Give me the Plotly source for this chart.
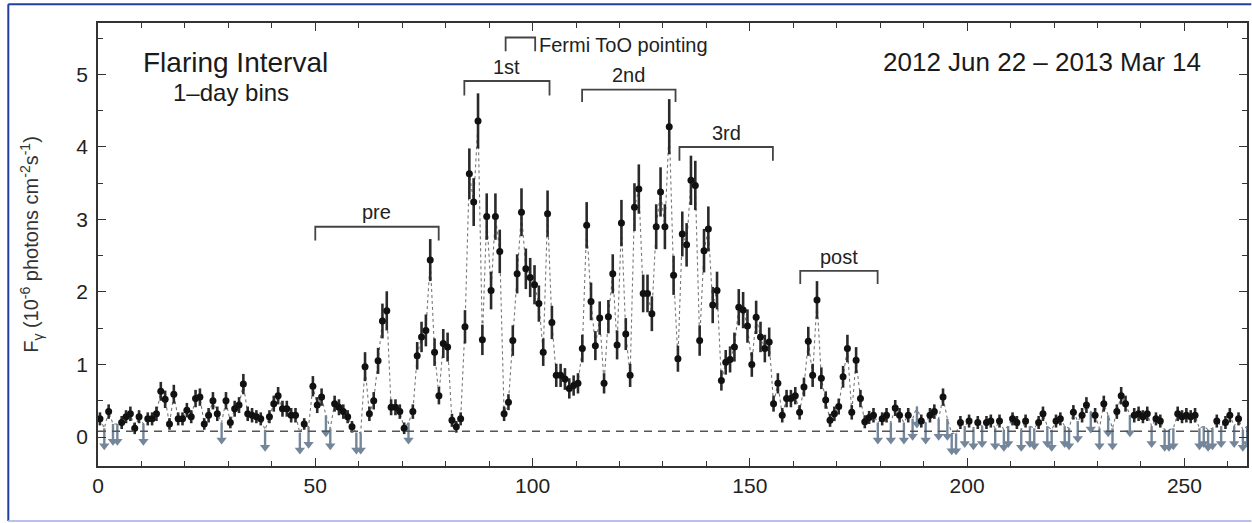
import numpy as np
import plotly.graph_objects as go

# ---------------- data ----------------
days = list(range(265))

flux = [
    0.25, 0.12, 0.35, 0.18, 0.18, 0.20, 0.28, 0.32, 0.12, 0.28,
    0.18, 0.25, 0.25, 0.32, 0.63, 0.52, 0.18, 0.59, 0.25, 0.25,
    0.37, 0.28, 0.53, 0.55, 0.18, 0.30, 0.50, 0.32, 0.20, 0.50,
    0.20, 0.39, 0.44, 0.73, 0.32, 0.30, 0.28, 0.25, 0.10, 0.28,
    0.46, 0.57, 0.39, 0.39, 0.30, 0.30, 0.06, 0.18, 0.14, 0.70,
    0.44, 0.55, 0.30, 0.12, 0.46, 0.41, 0.35, 0.28, 0.14, 0.06,
    0.06, 0.97, 0.32, 0.50, 1.05, 1.60, 1.74, 0.41, 0.41, 0.35,
    0.12, 0.20, 0.35, 1.12, 1.38, 1.47, 2.44, 1.17, 0.57, 1.29,
    1.24, 0.23, 0.14, 0.25, 1.52, 3.63, 3.24, 4.36, 1.34, 3.04,
    2.02, 3.04, 2.56, 0.32, 0.48, 1.33, 2.25, 3.10, 2.32, 2.20,
    2.10, 1.84, 1.17, 3.08, 1.58, 0.85, 0.85, 0.80, 0.67, 0.71,
    0.74, 1.22, 2.92, 1.87, 1.26, 1.64, 0.74, 1.66, 2.25, 1.27,
    2.95, 1.42, 0.85, 3.17, 3.42, 1.98, 1.98, 1.70, 2.90, 3.38,
    2.90, 4.28, 2.23, 1.08, 2.80, 2.65, 3.54, 3.47, 1.33, 2.57,
    2.87, 1.82, 2.02, 0.78, 1.03, 1.07, 1.24, 1.79, 1.75, 1.53,
    1.00, 1.65, 1.38, 1.22, 1.31, 0.46, 0.74, 0.30, 0.53, 0.53,
    0.57, 0.34, 0.69, 1.32, 0.85, 1.89, 0.81, 0.51, 0.23, 0.32,
    0.42, 0.83, 1.22, 0.34, 1.06, 0.53, 0.21, 0.27, 0.30, 0.20,
    0.25, 0.30, 0.20, 0.40, 0.30, 0.20, 0.30, 0.25, 0.42, 0.22,
    0.20, 0.30, 0.35, 0.25, 0.55, 0.25, 0.05, 0.05, 0.20, 0.15,
    0.22, 0.12, 0.20, 0.15, 0.20, 0.22, 0.12, 0.22, 0.10, 0.15,
    0.25, 0.20, 0.10, 0.22, 0.15, 0.12, 0.20, 0.32, 0.15, 0.10,
    0.22, 0.25, 0.15, 0.12, 0.34, 0.22, 0.30, 0.44, 0.35, 0.30,
    0.12, 0.46, 0.30, 0.12, 0.35, 0.57, 0.46, 0.30, 0.30, 0.32,
    0.28, 0.32, 0.15, 0.25, 0.22, 0.10, 0.10, 0.12, 0.32, 0.28,
    0.30, 0.28, 0.30, 0.12, 0.15, 0.10, 0.12, 0.22, 0.15, 0.20,
    0.30, 0.15, 0.25, 0.10, 0.15,
]

err = [
    0.09, 0.09, 0.10, 0.09, 0.09, 0.09, 0.09, 0.10, 0.08, 0.09,
    0.09, 0.09, 0.09, 0.10, 0.13, 0.12, 0.08, 0.13, 0.09, 0.09,
    0.10, 0.09, 0.12, 0.12, 0.08, 0.10, 0.12, 0.10, 0.09, 0.12,
    0.08, 0.11, 0.11, 0.14, 0.10, 0.10, 0.09, 0.09, 0.08, 0.09,
    0.11, 0.12, 0.11, 0.11, 0.10, 0.10, 0.08, 0.08, 0.08, 0.14,
    0.11, 0.12, 0.10, 0.08, 0.11, 0.11, 0.10, 0.09, 0.08, 0.08,
    0.08, 0.20, 0.10, 0.12, 0.18, 0.24, 0.27, 0.11, 0.11, 0.10,
    0.08, 0.08, 0.10, 0.19, 0.21, 0.22, 0.29, 0.19, 0.12, 0.20,
    0.20, 0.09, 0.08, 0.09, 0.23, 0.35, 0.33, 0.38, 0.21, 0.32,
    0.26, 0.32, 0.30, 0.10, 0.11, 0.21, 0.27, 0.33, 0.28, 0.27,
    0.27, 0.25, 0.19, 0.32, 0.23, 0.16, 0.16, 0.15, 0.14, 0.14,
    0.14, 0.19, 0.32, 0.26, 0.20, 0.23, 0.14, 0.23, 0.27, 0.20,
    0.32, 0.22, 0.16, 0.33, 0.34, 0.26, 0.26, 0.24, 0.31, 0.34,
    0.31, 0.38, 0.27, 0.18, 0.31, 0.30, 0.34, 0.34, 0.21, 0.30,
    0.31, 0.25, 0.26, 0.14, 0.17, 0.18, 0.20, 0.25, 0.25, 0.23,
    0.17, 0.23, 0.21, 0.19, 0.20, 0.11, 0.14, 0.10, 0.12, 0.12,
    0.12, 0.10, 0.13, 0.20, 0.16, 0.26, 0.15, 0.12, 0.09, 0.10,
    0.11, 0.15, 0.19, 0.10, 0.18, 0.12, 0.09, 0.09, 0.10, 0.09,
    0.09, 0.10, 0.09, 0.11, 0.10, 0.09, 0.10, 0.09, 0.11, 0.09,
    0.09, 0.10, 0.10, 0.09, 0.12, 0.09, 0.08, 0.08, 0.09, 0.08,
    0.09, 0.08, 0.09, 0.08, 0.09, 0.09, 0.08, 0.09, 0.08, 0.08,
    0.09, 0.09, 0.08, 0.09, 0.08, 0.08, 0.09, 0.10, 0.08, 0.08,
    0.09, 0.09, 0.08, 0.08, 0.10, 0.09, 0.10, 0.11, 0.10, 0.10,
    0.08, 0.11, 0.10, 0.08, 0.10, 0.12, 0.11, 0.10, 0.10, 0.10,
    0.09, 0.10, 0.08, 0.09, 0.09, 0.08, 0.08, 0.08, 0.10, 0.09,
    0.10, 0.09, 0.10, 0.08, 0.08, 0.08, 0.08, 0.09, 0.08, 0.09,
    0.10, 0.08, 0.09, 0.08, 0.08,
]

# days that are upper limits (grey arrows)
ul_days = [1, 3, 4, 10, 28, 38, 46, 48, 52, 53, 59, 60, 71,
           179, 182, 185, 187, 188, 190, 193, 195, 196, 197, 199,
           201, 203, 206, 208, 209, 212, 214, 215, 218, 219, 222,
           223, 225, 228, 230, 232, 233, 237, 242, 245, 246, 247,
           253, 254, 255, 256, 258, 261, 263, 264]

quiescent_level = 0.08

# interval brackets: (label, start day, end day)
interval_names = ["pre", "1st", "2nd", "3rd", "post", "Fermi ToO pointing"]
interval_start = [50, 84.3, 111.4, 133.8, 161.6, 93.8]
interval_end = [78.4, 103.9, 132.9, 155.3, 179.4, 100.6]

x_ticks = [0, 50, 100, 150, 200, 250]
y_ticks = [0, 1, 2, 3, 4, 5]

# ---------------- figure ----------------
FONT = "Liberation Sans"
d = np.array(days, dtype=float)
f = np.array(flux)
e = np.array(err)
is_ul = np.isin(d, ul_days)
xc = d + 0.45

fig = go.Figure()

# dotted connecting line
fig.add_trace(go.Scatter(x=xc, y=f, mode="lines",
                         line=dict(color="#777777", width=1.1, dash="dot"),
                         hoverinfo="skip", showlegend=False))

# upper limits
ARROW = 0.24
fig.add_trace(go.Scatter(
    x=xc[is_ul], y=f[is_ul] - ARROW, mode="markers",
    marker=dict(symbol="triangle-down", size=9, color="#74869a"),
    error_y=dict(type="data", symmetric=False,
                 array=np.full(is_ul.sum(), ARROW),
                 arrayminus=np.zeros(is_ul.sum()),
                 color="#74869a", thickness=2.4, width=0),
    showlegend=False))

# detections
fig.add_trace(go.Scatter(
    x=xc[~is_ul], y=f[~is_ul], mode="markers",
    marker=dict(symbol="circle", size=7, color="#111111"),
    error_y=dict(type="data", array=e[~is_ul], color="#2a2a2a",
                 thickness=2.6, width=0),
    showlegend=False))

fig.add_hline(y=quiescent_level, line=dict(color="#555555", width=1.6, dash="8px,6px"))

# brackets
bracket_top = {"pre": 2.90, "1st": 4.91, "2nd": 4.79, "3rd": 4.00,
               "post": 2.29, "Fermi ToO pointing": 5.51}
bracket_drop = {"pre": 0.19, "1st": 0.20, "2nd": 0.17, "3rd": 0.19,
                "post": 0.18, "Fermi ToO pointing": 0.19}
for name, s, t in zip(interval_names, interval_start, interval_end):
    top = bracket_top[name]
    dr = bracket_drop[name]
    fig.add_trace(go.Scatter(x=[s, s, t, t], y=[top - dr, top, top, top - dr],
                             mode="lines", line=dict(color="#444444", width=1.8),
                             hoverinfo="skip", showlegend=False))
    if name == "Fermi ToO pointing":
        fig.add_annotation(x=t + 0.4, y=5.40, text=name, showarrow=False,
                           xanchor="left", yanchor="middle",
                           font=dict(size=20, color="#222222", family=FONT))
    else:
        fig.add_annotation(x=(s + t) / 2, y=top + 0.02, text=name, showarrow=False,
                           xanchor="center", yanchor="bottom",
                           font=dict(size=20, color="#222222", family=FONT))

fig.add_annotation(x=10.0, y=5.17, text="Flaring Interval", showarrow=False,
                   xanchor="left", yanchor="middle",
                   font=dict(size=28, color="#1a1a1a", family=FONT))
fig.add_annotation(x=16.8, y=4.75, text="1\u2013day bins", showarrow=False,
                   xanchor="left", yanchor="middle",
                   font=dict(size=24, color="#1a1a1a", family=FONT))
fig.add_annotation(x=254.3, y=5.17, text="2012 Jun 22 \u2013 2013 Mar 14", showarrow=False,
                   xanchor="right", yanchor="middle",
                   font=dict(size=26, color="#1a1a1a", family=FONT))

# outer screenshot frame
PL, PR, PT, PB = 97.7, 1246.7, 22.7, 466.0
W = PR - PL
H = PB - PT
def px(xp):
    return (xp - PL) / W
def py(yp):
    return (PB - yp) / H
frame_dark = "#2040a0"
frame_light = "#b7c0ee"
fig.add_shape(type="line", xref="paper", yref="paper", x0=px(8), x1=px(1251), y0=py(4), y1=py(4),
              line=dict(color=frame_dark, width=2))
fig.add_shape(type="line", xref="paper", yref="paper", x0=px(8), x1=px(8), y0=py(4), y1=py(521),
              line=dict(color=frame_dark, width=2))
fig.add_shape(type="line", xref="paper", yref="paper", x0=px(8), x1=px(1251), y0=py(521), y1=py(521),
              line=dict(color=frame_light, width=2))

axis_common = dict(showline=True, linecolor="#333333", linewidth=1.6, mirror="allticks",
                   ticks="inside", ticklen=8, tickwidth=1.4, tickcolor="#333333",
                   showgrid=False, zeroline=False, automargin=False,
                   tickfont=dict(size=21, color="#222222", family=FONT))

fig.update_xaxes(range=[0, 264.4], tickvals=x_ticks,
                 minor=dict(dtick=10, ticks="inside", ticklen=5, tickcolor="#333333", tickwidth=1.2),
                 **axis_common)
fig.update_yaxes(range=[-0.40, 5.71], tickvals=y_ticks, ticklabelstandoff=4,
                 minor=dict(dtick=0.5, ticks="inside", ticklen=5, tickcolor="#333333", tickwidth=1.2),
                 title=dict(text="F<sub>\u03b3</sub> (10<sup>-6</sup> photons cm<sup>-2</sup>s<sup>-1</sup>)",
                            font=dict(size=20, color="#333333", family=FONT),
                            standoff=32),
                 **axis_common)

fig.update_layout(width=1252, height=523,
                  margin=dict(l=PL, r=1252 - PR, t=PT, b=523 - PB, autoexpand=False),
                  paper_bgcolor="white", plot_bgcolor="white",
                  showlegend=False)

fig.write_html("out.html",
               config={"displayModeBar": False, "staticPlot": False},
               post_script="document.body.style.margin='0px';document.body.style.overflow='hidden';")
